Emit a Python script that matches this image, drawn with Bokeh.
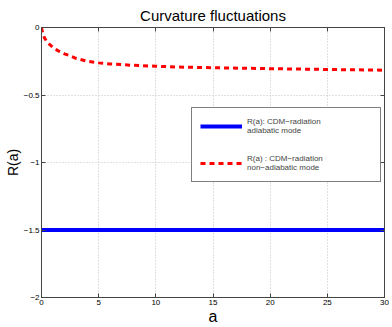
from bokeh.plotting import figure
from bokeh.models import Range1d, LinearAxis, Legend, LegendItem, FixedTicker
from bokeh.embed import file_html
from bokeh.resources import INLINE

# ---- data ----
a_nonad = [0, 0.1, 0.25, 0.5, 1, 1.5, 2, 2.5, 3, 4, 5, 6, 8, 10, 12, 15, 20, 25, 30]
R_nonad = [0, -0.04, -0.075, -0.11, -0.148, -0.175, -0.195, -0.21, -0.228, -0.25,
           -0.262, -0.27, -0.28, -0.287, -0.293, -0.298, -0.305, -0.311, -0.316]
a_ad = [0, 30]
R_ad = [-1.5, -1.5]

x_ticks = [0, 5, 10, 15, 20, 25, 30]
y_ticks = [-2, -1.5, -1, -0.5, 0]
y_tick_labels = {-2: "\u22122", -1.5: "\u22121.5", -1: "\u22121", -0.5: "\u22120.5", 0: "0"}

title_text = "Curvature fluctuations"
x_label = "a"
y_label = "R(a)"
label_ad = "R(a): CDM\u2212radiation\nadiabatic mode"
label_nonad = "R(a) : CDM\u2212radiation\nnon\u2212adiabatic mode"

FONT = "Liberation Sans"

p = figure(width=392, height=327, output_backend="svg", toolbar_location=None,
           x_range=Range1d(0, 30), y_range=Range1d(-2, 0),
           min_border_left=41, min_border_right=8, min_border_top=0, min_border_bottom=0)

p.title.text = title_text
p.title.align = "center"
p.title.text_font = FONT
p.title.text_font_size = "15px"
p.title.text_font_style = "normal"
p.title.text_color = "black"
p.title.standoff = 8

p.background_fill_color = "white"
p.border_fill_color = "white"
p.outline_line_color = "#444444"
p.outline_line_width = 1

for ax in (p.xaxis[0], p.yaxis[0]):
    ax.major_tick_in = 4
    ax.major_tick_out = 0
    ax.minor_tick_in = 0
    ax.minor_tick_out = 0
    ax.major_label_text_font = FONT
    ax.major_label_text_font_size = "8px"
    ax.major_label_text_color = "black"
    ax.axis_label_text_font = FONT
    ax.axis_label_text_font_style = "normal"
    ax.axis_label_text_color = "black"
    ax.axis_line_color = "#444444"
    ax.major_tick_line_color = "#444444"
    ax.major_label_standoff = 2
    ax.axis_label_standoff = 0

p.xaxis[0].ticker = FixedTicker(ticks=x_ticks)
p.yaxis[0].ticker = FixedTicker(ticks=y_ticks)
p.yaxis[0].major_label_overrides = y_tick_labels
p.xaxis[0].axis_label = x_label
p.yaxis[0].axis_label = y_label
p.xaxis[0].axis_label_text_font_size = "16px"
p.yaxis[0].axis_label_text_font_size = "14px"
p.xaxis[0].major_label_standoff = 2

# mirrored tick marks on top and right (MATLAB box style), no labels
for loc, ticks in (("right", y_ticks), ("above", x_ticks)):
    ax = LinearAxis(ticker=FixedTicker(ticks=ticks))
    ax.major_tick_in = 4
    ax.major_tick_out = 0
    ax.minor_tick_in = 0
    ax.minor_tick_out = 0
    ax.major_label_text_color = None
    ax.major_label_text_font_size = "1px"
    ax.major_label_standoff = 0
    ax.axis_line_color = "#444444"
    ax.major_tick_line_color = "#444444"
    p.add_layout(ax, loc)

p.xgrid.ticker = FixedTicker(ticks=x_ticks)
p.ygrid.ticker = FixedTicker(ticks=y_ticks)
for g in (p.xgrid[0], p.ygrid[0]):
    g.grid_line_color = "#c0c0c0"
    g.grid_line_dash = "1 2"
    g.grid_line_width = 1

r_ad = p.line(a_ad, R_ad, line_color="#0000ff", line_width=4)
r_nonad = p.line(a_nonad, R_nonad, line_color="#ff0000", line_width=3, line_dash="5 4")

legend = Legend(items=[LegendItem(label=label_ad, renderers=[r_ad]),
                       LegendItem(label=label_nonad, renderers=[r_nonad])],
                location=(150, 115), margin=0, padding=8, spacing=17,
                glyph_width=42, glyph_height=20, label_height=20, label_width=125,
                label_standoff=5,
                label_text_font=FONT, label_text_font_size="8px",
                label_text_line_height=1.1,
                border_line_color="black", border_line_width=1,
                background_fill_color="white", background_fill_alpha=1)
p.add_layout(legend, "center")

open("out.html", "w").write(file_html(p, INLINE))
